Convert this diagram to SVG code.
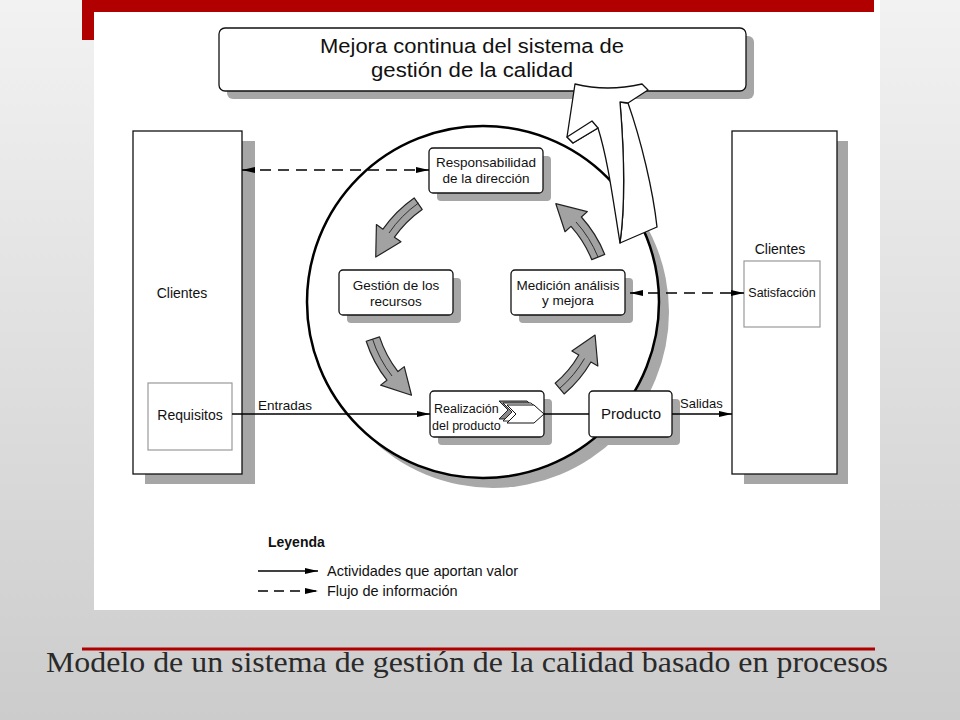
<svg xmlns="http://www.w3.org/2000/svg" width="960" height="720" viewBox="0 0 960 720">
<defs>
<linearGradient id="bg" x1="0" y1="0" x2="0" y2="1">
<stop offset="0" stop-color="#f2f2f2"/>
<stop offset="1" stop-color="#cccccc"/>
</linearGradient>
<marker id="ah" viewBox="0 0 13 6" refX="13" refY="3" markerWidth="13" markerHeight="6" markerUnits="userSpaceOnUse" orient="auto-start-reverse">
<path d="M0,0 L13,3 L0,6 Z" fill="#000"/>
</marker>
<style>
text{font-family:"Liberation Sans",Arial,sans-serif;fill:#111}
.box{fill:#fff;stroke:#111;stroke-width:1.3}
.sh{fill:#a6a6a6}
.t13{font-size:13.5px;text-anchor:middle}
.t14{font-size:14px;text-anchor:middle}
.leg{font-size:14.5px}
.solid{stroke:#000;stroke-width:1.3;fill:none}
.dash{stroke:#000;stroke-width:1.3;fill:none;stroke-dasharray:11 7}
.garrow{fill:#a2a2a2;stroke:#222;stroke-width:1.2;stroke-linejoin:round}
.edge{fill:none;stroke:#222;stroke-width:0.9}
.warrow{fill:#fff;stroke:#111;stroke-width:1.3;stroke-linejoin:round}
</style>
</defs>

<rect width="960" height="720" fill="url(#bg)"/>
<rect x="94" y="0" width="786" height="610" fill="#fff"/>
<rect x="82" y="0" width="792" height="12" fill="#b00000"/>
<rect x="82" y="0" width="12" height="40" fill="#b00000"/>
<line x1="82" y1="649" x2="875" y2="649" stroke="#b00000" stroke-width="3"/>
<text x="46" y="672" textLength="842" lengthAdjust="spacingAndGlyphs" style="font-family:'Liberation Serif','Times New Roman',serif;font-size:30px;fill:#2a2a2a">Modelo de un sistema de gestión de la calidad basado en procesos</text>

<g id="circle">
<circle cx="493" cy="312" r="176" fill="#a8a8a8"/>
<circle cx="483" cy="302" r="176" fill="#fff" stroke="#000" stroke-width="2.5"/>
</g>

<g id="title">
<rect x="227" y="36" width="527" height="63" rx="6" class="sh"/>
<rect x="219" y="28" width="527" height="63" rx="6" class="box"/>
<text x="472" y="53" textLength="304" lengthAdjust="spacingAndGlyphs" style="font-size:20.5px;text-anchor:middle">Mejora continua del sistema de</text>
<text x="472" y="77" textLength="202" lengthAdjust="spacingAndGlyphs" style="font-size:20.5px;text-anchor:middle">gestión de la calidad</text>
</g>

<g id="clientes-left">
<rect x="145" y="141" width="110" height="343" class="sh"/>
<rect x="133" y="131" width="109" height="343" class="box"/>
<text x="182" y="298" class="t14">Clientes</text>
</g>
<g id="requisitos">
<rect x="148" y="383" width="84" height="67" fill="#fff" stroke="#999" stroke-width="1.2"/>
<text x="190" y="420" class="t14">Requisitos</text>
</g>

<g id="clientes-right">
<rect x="744" y="141" width="104" height="343" class="sh"/>
<rect x="732" y="131" width="105" height="343" class="box"/>
<text x="780" y="254" class="t14">Clientes</text>
</g>
<g id="satisfaccion">
<rect x="744" y="261" width="76" height="66" fill="#fff" stroke="#999" stroke-width="1.2"/>
<text x="782" y="297" style="font-size:12.5px;text-anchor:middle">Satisfacción</text>
</g>

<g id="responsabilidad">
<rect x="437" y="156" width="114" height="45" rx="4" class="sh"/>
<rect x="429" y="148" width="114" height="45" rx="4" class="box"/>
<text x="486" y="167" class="t13">Responsabilidad</text>
<text x="486" y="183" class="t13">de la dirección</text>
</g>

<g id="gestion">
<rect x="347" y="278" width="114" height="45" rx="4" class="sh"/>
<rect x="339" y="270" width="114" height="45" rx="4" class="box"/>
<text x="396" y="290" class="t13">Gestión de los</text>
<text x="396" y="306" class="t13">recursos</text>
</g>

<g id="medicion">
<rect x="519" y="278" width="114" height="45" rx="4" class="sh"/>
<rect x="511" y="270" width="114" height="45" rx="4" class="box"/>
<text x="568" y="290" class="t13">Medición análisis</text>
<text x="568" y="305" class="t13">y mejora</text>
</g>

<g id="realizacion">
<rect x="438" y="399" width="114" height="46" rx="4" class="sh"/>
<rect x="430" y="391" width="114" height="46" rx="4" class="box"/>
<text x="434" y="413" style="font-size:12.5px">Realización</text>
<text x="432" y="430" style="font-size:12.5px">del producto</text>
<path d="M499,401 L527,401 L537,410 L527,419 L499,419 L508,410 Z" fill="#8a8a8a" stroke="#111" stroke-width="0.9"/>
<path d="M503,403 L531,403 L541,412 L531,421 L503,421 L512,412 Z" fill="#fff" stroke="#111" stroke-width="0.9"/>
<path d="M507,405 L534,405 L544,414 L534,423 L507,423 L516,414 Z" fill="#fff" stroke="#111" stroke-width="1"/>
</g>

<g id="producto">
<rect x="597" y="399" width="83" height="46" rx="4" class="sh"/>
<rect x="589" y="391" width="83" height="46" rx="4" class="box"/>
<text x="631" y="419" style="font-size:15px;text-anchor:middle">Producto</text>
</g>

<g id="cycle-arrows">
<path class="garrow" d="M414.15,197.96 A127,127 0 0 0 382.96,229.15 L376.41,224.56 L375.74,257.05 L400.98,241.77 L394.43,237.18 A113,113 0 0 1 422.18,209.43 Z"/>
<path class="edge" d="M418.5,203 A120,120 0 0 0 389,233"/>
<path class="garrow" d="M366.21,341.24 A127,127 0 0 0 386.92,380.19 L380.62,385.12 L411.48,395.25 L404.26,366.65 L397.96,371.57 A113,113 0 0 1 379.53,336.92 Z"/>
<path class="edge" d="M372.5,339 A120,120 0 0 0 392,376"/>
<path class="garrow" d="M564.14,393.92 A120,120 0 0 0 590.92,362 L597.85,366 L595.06,335.04 L571.87,351 L578.8,355 A106,106 0 0 1 555.14,383.2 Z"/>
<path class="edge" d="M559.5,388.5 A113,113 0 0 0 584.5,358.5"/>
<path class="garrow" d="M604.75,254.43 A127,127 0 0 0 581.37,217.02 L587.32,211.67 L555.83,203.7 L565.03,231.74 L570.97,226.39 A113,113 0 0 1 591.77,259.67 Z"/>
<path class="edge" d="M598,257 A120,120 0 0 0 576,222"/>
</g>

<g id="connectors">
<line x1="242" y1="170" x2="429" y2="170" class="dash" marker-start="url(#ah)" marker-end="url(#ah)"/>
<line x1="630" y1="293" x2="744" y2="293" class="dash" marker-start="url(#ah)" marker-end="url(#ah)"/>
<line x1="232" y1="414" x2="430" y2="414" class="solid" marker-end="url(#ah)"/>
<line x1="544" y1="414" x2="589" y2="414" class="solid"/>
<line x1="672" y1="414" x2="732" y2="414" class="solid" marker-end="url(#ah)"/>
<text x="258" y="410" style="font-size:13.5px">Entradas</text>
<text x="680" y="408" style="font-size:13px">Salidas</text>
</g>

<g id="mejora-arrow">
<path class="warrow" d="M628,103 C641,140 653,190 657,227 L620,243 C626,200 624,150 620,102 Z"/>
<path class="warrow" d="M575,84 Q607,92 642,84 L648,90 L628,103 L620,102 C624,150 626,200 620,243 C613,200 608,160 598,128 L573,143 L567,137 Z"/>
<path class="warrow" d="M567,137 L592,121 L598,128 L573,143 Z"/>
</g>

<g id="legend">
<text x="268" y="547" style="font-size:14px;font-weight:bold">Leyenda</text>
<line x1="258" y1="571" x2="318" y2="571" class="solid" marker-end="url(#ah)"/>
<text x="327" y="576" class="leg">Actividades que aportan valor</text>
<line x1="258" y1="591" x2="318" y2="591" class="solid" style="stroke-dasharray:10 6" marker-end="url(#ah)"/>
<text x="327" y="596" class="leg">Flujo de información</text>
</g>
</svg>
